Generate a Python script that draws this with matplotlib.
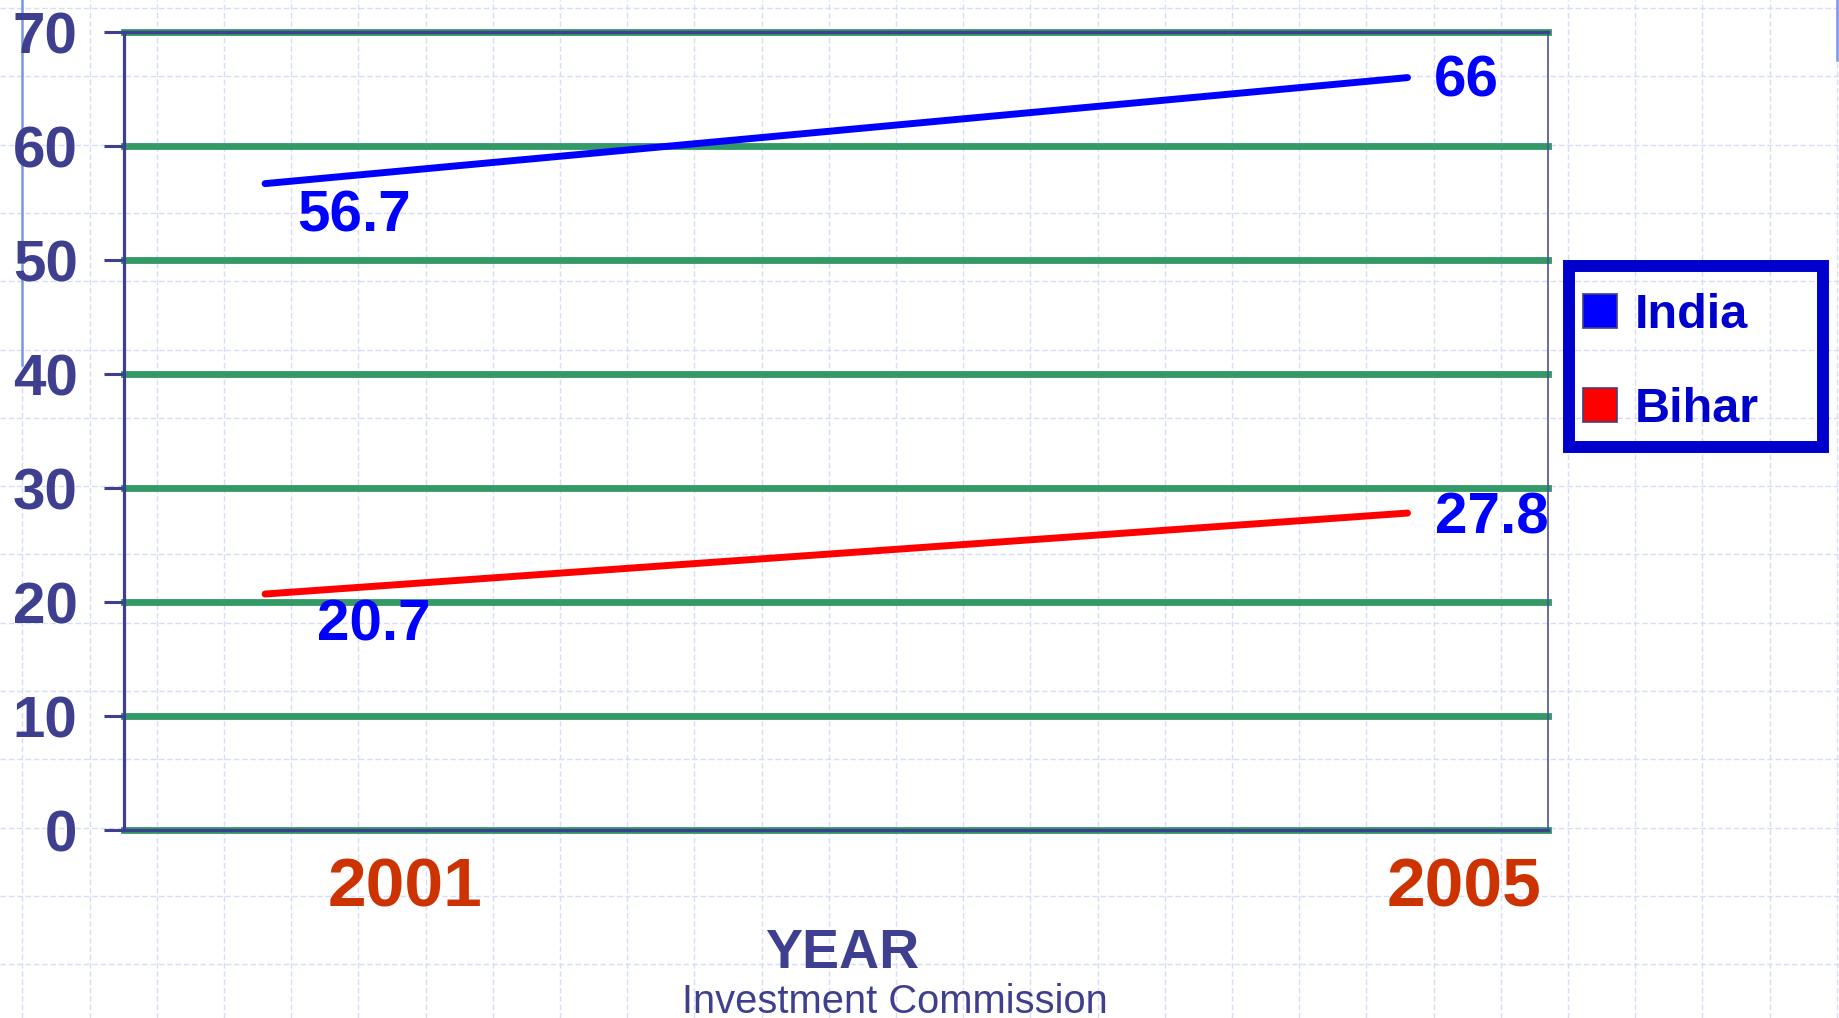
import numpy as np
import matplotlib
matplotlib.use("Agg")
import matplotlib.pyplot as plt
import matplotlib.transforms as mtransforms
from matplotlib.patches import Patch, Rectangle

plt.rcParams["font.family"] = ["Liberation Sans", "DejaVu Sans"]
plt.rcParams["font.weight"] = "bold"

# ---------- data ----------
YEARS = [2001, 2005]
YEAR_LABELS = ["2001", "2005"]
INDIA = [56.7, 66]
BIHAR = [20.7, 27.8]
SERIES = ["India", "Bihar"]
Y_TICKS = [0, 10, 20, 30, 40, 50, 60, 70]

NAVY = "#3F3F8F"
GREEN = "#339966"
BLUE = "#0000FF"
RED = "#FF0000"
ORANGE = "#CC3300"
LEG_BLUE = "#0000CC"

W, H = 1840, 1018
fig = plt.figure(figsize=(W / 100, H / 100), dpi=100)

# ---------- slide background: graph-paper pattern (pixel coords) ----------
bg = fig.add_axes([0, 0, 1, 1], zorder=-10)
bg.set_xlim(0, W)
bg.set_ylim(H, 0)
bg.axis("off")
for x in 22.5 + 67.2 * np.arange(28):
    bg.axvline(x, color="#D6DDF6", lw=1.0, ls=(0, (4, 2)))
for y in 8 + 68.3 * np.arange(15):
    bg.axhline(y, color="#D6DDF6", lw=1.0, ls=(0, (4, 2)))
bg.plot([22, 22], [0, 365], color="#7B96E8", lw=1.8)
bg.plot([1837, 1837], [0, 60], color="#7B96E8", lw=1.8)

# ---------- chart ----------
ax = fig.add_axes([124 / W, 1 - 830 / H, (1548 - 124) / W, (830 - 32) / H])
ax.patch.set_alpha(0)

ax.plot(YEARS, INDIA, color=BLUE, lw=5, solid_capstyle="round", zorder=3)
ax.plot(YEARS, BIHAR, color=RED, lw=5, solid_capstyle="round", zorder=3)

ax.set_xlim(2000.506, 2005.492)
ax.set_ylim(0, 70)
ax.set_yticks(Y_TICKS)
ax.set_xticks(YEARS, YEAR_LABELS)
ax.set_axisbelow(True)
ax.yaxis.grid(True, color=GREEN, lw=4.9)
for gl in ax.yaxis.get_gridlines():
    gl.set_clip_on(False)

ax.tick_params(axis="x", length=0, pad=19, labelsize=50, labelcolor=ORANGE)
ax.tick_params(axis="y", length=14.4, width=2.2, color=NAVY, pad=19,
               labelsize=42, labelcolor=NAVY)

# category labels sit right of the data points in the original
for lbl, dx in zip(ax.get_xticklabels(), [140, 57]):
    lbl.set_transform(lbl.get_transform() +
                      mtransforms.ScaledTranslation(dx / 100, 0, fig.dpi_scale_trans))

for side in ["left", "top", "bottom"]:
    ax.spines[side].set_color(NAVY)
    ax.spines[side].set_linewidth(2.3)
ax.spines["right"].set_color("#505090")
ax.spines["right"].set_linewidth(1.2)

# data labels (offsets in points)
label_offsets = [[(23, -34.6), (19, -13.7)], [(37.4, -33.8), (19.8, -14.4)]]
for vals, offs in zip([INDIA, BIHAR], label_offsets):
    for x, v, off in zip(YEARS, vals, offs):
        ax.annotate(f"{v:g}", xy=(x, v), xytext=off, textcoords="offset points",
                    ha="left", va="baseline", fontsize=42, color=BLUE)

# legend: entries without frame, thick transparent box drawn separately
handles = [Patch(facecolor=c, edgecolor="#404080", lw=1.2) for c in [BLUE, RED]]
leg = fig.legend(handles, SERIES, loc="upper left",
                 bbox_to_anchor=(1583 / W, 1 - 293 / H),
                 bbox_transform=fig.transFigure, borderaxespad=0, borderpad=0,
                 fontsize=35, handlelength=0.7, handleheight=0.7,
                 handletextpad=0.37, labelspacing=1.0,
                 frameon=False, labelcolor=LEG_BLUE)
bg.add_patch(Rectangle((1569, 266), 1823 - 1569, 447 - 266, fill=False,
                       edgecolor=LEG_BLUE, lw=8.6, joinstyle="miter", zorder=5))

fig.text(842 / W, 1 - 968 / H, "YEAR", ha="center", va="baseline",
         fontsize=40, color=NAVY)
fig.text(895 / W, 1 - 1013 / H, "Investment Commission", ha="center",
         va="baseline", fontsize=28.7, fontweight="normal", color=NAVY)

fig.savefig("out.png", dpi=100, facecolor="white")
